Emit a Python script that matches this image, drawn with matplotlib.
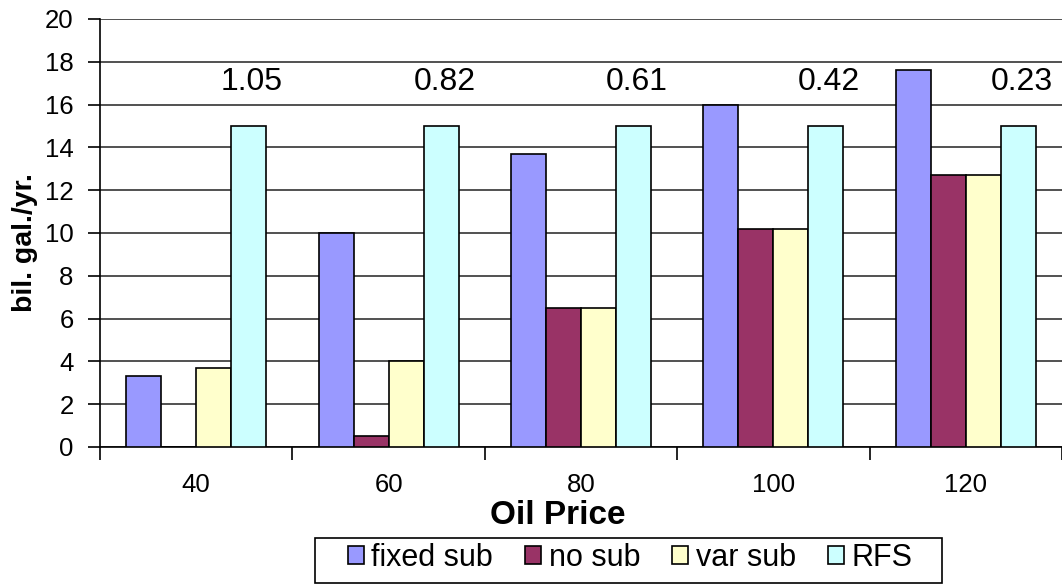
import matplotlib

matplotlib.use("Agg")
import matplotlib.pyplot as plt
import numpy as np
from matplotlib.patches import Rectangle

plt.rcParams["font.family"] = ["Liberation Sans", "DejaVu Sans"]

# Datos.
prices = ["40", "60", "80", "100", "120"]
fixed_sub = [3.3, 10.0, 13.7, 16.0, 17.6]
no_sub = [0.0, 0.5, 6.5, 10.2, 12.7]
var_sub = [3.7, 4.0, 6.5, 10.2, 12.7]
rfs = [15.0, 15.0, 15.0, 15.0, 15.0]
ratios = ["1.05", "0.82", "0.61", "0.42", "0.23"]

series = [
    ("fixed sub", fixed_sub, "#9999FF"),
    ("no sub", no_sub, "#993366"),
    ("var sub", var_sub, "#FFFFCC"),
    ("RFS", rfs, "#CCFFFF"),
]

W, H = 1062, 586
fig = plt.figure(figsize=(W / 100, H / 100), dpi=100)
ax = fig.add_axes([100 / W, 1 - 447 / H, 962 / W, 428 / H])

x = np.arange(len(prices))
width = 1 / 5.5  # gap width 150% como en Excel
for i, (name, vals, color) in enumerate(series):
    ax.bar(x + (i - 1.5) * width, vals, width, color=color, edgecolor="black",
           linewidth=1.2, label=name, zorder=3)

for xi, txt in zip(x, ratios):
    ax.text(xi + 0.29, 17.05, txt, ha="center", va="center", fontsize=23)

ax.set_xlim(-0.5, 4.5)
ax.set_ylim(0, 20)
ax.set_yticks(np.arange(0, 21, 2))
ax.yaxis.grid(True, color="#222222", linewidth=1.1, zorder=0)
ax.set_xticks(x)
ax.set_xticklabels(prices, fontsize=18.5)
ax.set_xticks(np.arange(-0.5, 5, 1), minor=True)
ax.tick_params(axis="x", which="major", length=0, pad=19)
ax.tick_params(axis="x", which="minor", length=9, width=1.2, direction="out")
ax.tick_params(axis="y", labelsize=18.5, length=9, width=1.2, pad=10)
for side in ["top", "right"]:
    ax.spines[side].set_visible(False)
for side in ["left", "bottom"]:
    ax.spines[side].set_linewidth(1.2)

fig.text(558 / W, 1 - 515 / H, "Oil Price", ha="center", va="center",
         fontsize=24, fontweight="bold")
fig.text(25 / W, 1 - 243 / H, "bil. gal./yr.", ha="center", va="center",
         rotation=90, fontsize=20.5, fontweight="bold")

# Leyenda sin marco propio; el recuadro se dibuja aparte como en Excel.
leg = fig.legend(loc="center", bbox_to_anchor=(630 / W, 1 - 558 / H), ncol=4,
                 fontsize=22, frameon=False,
                 handlelength=0.52, handleheight=0.52, handletextpad=0.25,
                 columnspacing=1.05, borderpad=0.2)
for h in leg.legend_handles:
    h.set_linewidth(1.2)
fig.patches.append(Rectangle((315 / W, 1 - 583 / H), 627 / W, 45 / H,
                             transform=fig.transFigure, fill=False,
                             edgecolor="black", linewidth=1.2))

fig.savefig("out.png", dpi=100)
